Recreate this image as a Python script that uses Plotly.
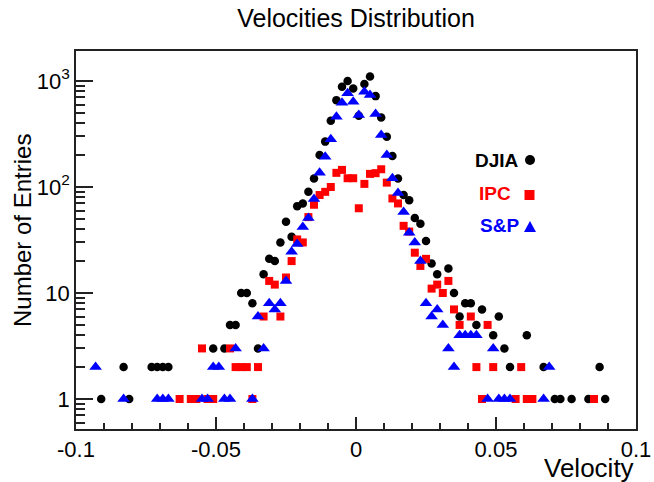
import plotly.graph_objects as go

# ---------------- data ----------------
djia_v = [-0.091, -0.083, -0.081, -0.073, -0.071, -0.069, -0.067, -0.051, -0.047, -0.045,
          -0.043, -0.041, -0.039, -0.037, -0.035, -0.033, -0.031, -0.029, -0.027, -0.025,
          -0.023, -0.021, -0.019, -0.017, -0.015, -0.013, -0.011, -0.009, -0.007, -0.005,
          -0.003, -0.001, 0.001, 0.003, 0.005, 0.007, 0.009, 0.011, 0.013, 0.015,
          0.017, 0.019, 0.021, 0.023, 0.025, 0.027, 0.029, 0.033, 0.035, 0.037,
          0.039, 0.041, 0.043, 0.045, 0.049, 0.051, 0.053, 0.055, 0.061, 0.067,
          0.071, 0.073, 0.077, 0.083, 0.087, 0.089]
djia_n = [1, 2, 1, 2, 2, 2, 2, 3, 3, 5,
          5, 10, 10, 8, 3, 15, 21, 20, 30, 47,
          34, 66, 70, 90, 120, 200, 268, 422, 660, 884,
          1000, 850, 470, 935, 1100, 720, 453, 298, 196, 120,
          84, 75, 51, 45, 31, 19, 15, 17, 10, 6,
          8, 8, 5, 7, 4, 6, 3, 2, 4, 2,
          1, 1, 1, 1, 2, 1]

ipc_v = [-0.063, -0.059, -0.057, -0.055, -0.053, -0.051, -0.045, -0.043, -0.041, -0.039,
         -0.037, -0.035, -0.033, -0.031, -0.029, -0.027, -0.025, -0.023, -0.021, -0.019,
         -0.017, -0.015, -0.013, -0.011, -0.009, -0.007, -0.005, -0.003, -0.001, 0.001,
         0.003, 0.005, 0.007, 0.009, 0.011, 0.013, 0.015, 0.017, 0.019, 0.021,
         0.023, 0.025, 0.027, 0.029, 0.031, 0.033, 0.035, 0.037, 0.041, 0.043,
         0.045, 0.047, 0.049, 0.057, 0.059, 0.061, 0.063, 0.085]
ipc_n = [1, 1, 1, 3, 1, 1, 3, 2, 2, 2,
         1, 2, 6, 13, 12, 6, 14, 20, 32, 30,
         52, 68, 84, 90, 100, 136, 145, 121, 121, 63,
         107, 133, 135, 147, 110, 78, 70, 43, 38, 24,
         18, 21, 11, 12, 10, 13, 7, 5, 6, 2,
         1, 5, 2, 1, 2, 1, 1, 1]

sp_v = [-0.093, -0.083, -0.071, -0.069, -0.067, -0.055, -0.053, -0.051, -0.049, -0.047,
        -0.045, -0.043, -0.037, -0.035, -0.033, -0.031, -0.029, -0.027, -0.025, -0.023,
        -0.021, -0.019, -0.017, -0.015, -0.013, -0.011, -0.009, -0.007, -0.005, -0.003,
        -0.001, 0.001, 0.003, 0.005, 0.007, 0.009, 0.011, 0.013, 0.015, 0.017,
        0.019, 0.021, 0.023, 0.025, 0.027, 0.029, 0.031, 0.033, 0.035, 0.037,
        0.039, 0.041, 0.043, 0.047, 0.049, 0.051, 0.053, 0.055, 0.067, 0.069]
sp_n = [2, 1, 1, 1, 1, 1, 1, 2, 2, 1,
        1, 3, 1, 6, 3, 8, 7, 8, 13, 24.5,
        29, 42, 51, 77, 136, 193, 282, 460, 624, 765,
        638, 478, 793, 738, 489, 310, 200, 121, 88, 58,
        37, 30, 20, 8, 6, 7, 5, 3, 2, 4,
        4, 4, 4, 1, 3, 1, 1, 1, 1, 2]

series_names = ["DJIA", "IPC", "S&P"]
series_colors = ["#000000", "#ff0000", "#0000ff"]

x_tickvals = [-0.1, -0.05, 0, 0.05, 0.1]
x_ticktext = ["-0.1", "-0.05", "0", "0.05", "0.1"]
y_tickvals = [1, 10, 100, 1000]
y_ticktext = ["1", "10", "10<sup>2</sup>", "10<sup>3</sup>"]

FONT = "Liberation Sans, Arial, Helvetica, sans-serif"
AX = "#222222"

W, H = 654, 482
L, R, T, B = 76, 18, 51, 53
PW, PH = W - L - R, H - T - B


def px2x(px):
    return (px - L) / PW


def py2y(py):
    return (H - B - py) / PH


fig = go.Figure()
fig.add_trace(go.Scatter(x=djia_v, y=djia_n, mode="markers", name=series_names[0],
                         marker=dict(symbol="circle", size=8.5, color=series_colors[0],
                                     line=dict(width=0))))
fig.add_trace(go.Scatter(x=ipc_v, y=ipc_n, mode="markers", name=series_names[1],
                         marker=dict(symbol="square", size=8, color=series_colors[1],
                                     line=dict(width=0))))
fig.add_trace(go.Scatter(x=sp_v, y=sp_n, mode="markers", name=series_names[2],
                         marker=dict(symbol="triangle-up", size=11, color=series_colors[2],
                                     line=dict(width=0))))

fig.update_layout(
    width=W, height=H,
    margin=dict(l=L, r=R, t=T, b=B, autoexpand=False),
    showlegend=False,
    plot_bgcolor="white", paper_bgcolor="white",
    font=dict(family=FONT, color="black"),
    title=dict(text="Velocities Distribution", x=0.5, xref="paper", xanchor="center",
               y=1 - 18 / H, yref="container", yanchor="middle",
               font=dict(size=25, family=FONT, color="black")),
)

fig.update_xaxes(
    range=[-0.1, 0.1], tickmode="array", tickvals=x_tickvals, ticktext=x_ticktext,
    ticks="inside", ticklen=12, tickwidth=1.5, tickcolor=AX,
    minor=dict(tick0=0, dtick=0.01, ticks="inside", ticklen=6, tickwidth=1.5, tickcolor=AX),
    showline=True, linecolor=AX, linewidth=1.5, mirror=True,
    showgrid=False, zeroline=False, automargin=False,
    tickfont=dict(size=22, family=FONT, color="black"),
)
fig.update_yaxes(
    type="log", range=[-0.283, 3.283], tickmode="array", tickvals=y_tickvals, ticktext=y_ticktext,
    ticks="inside", ticklen=17, tickwidth=1.5, tickcolor=AX,
    minor=dict(dtick="D1", ticks="inside", ticklen=9, tickwidth=1.5, tickcolor=AX),
    showline=True, linecolor=AX, linewidth=1.5, mirror=True,
    showgrid=False, zeroline=False, automargin=False,
    tickfont=dict(size=22, family=FONT, color="black"),
)

annotations = [
    dict(text="Velocity", x=1.0, y=py2y(468), xref="paper", yref="paper",
         xanchor="right", yanchor="middle", showarrow=False,
         font=dict(size=26, family=FONT, color="black")),
    dict(text="Number of Entries", x=px2x(22), y=py2y(231), xref="paper", yref="paper",
         xanchor="center", yanchor="middle", textangle=-90, showarrow=False,
         font=dict(size=24, family=FONT, color="black")),
]
legend_text_pos = [(473, 160), (477, 194), (478, 226)]
for name, col, (tx, ty) in zip(series_names, series_colors, legend_text_pos):
    annotations.append(dict(text="<b>" + name.replace("&", "&amp;") + "</b>",
                            x=px2x(tx), y=py2y(ty), xref="paper", yref="paper",
                            xanchor="left", yanchor="middle", showarrow=False,
                            font=dict(size=19, family=FONT, color=col)))
fig.update_layout(annotations=annotations)

# legend swatches (decoration, in paper coordinates)
shapes = [
    dict(type="circle", xref="paper", yref="paper",
         x0=px2x(525), x1=px2x(535), y0=py2y(165), y1=py2y(155),
         fillcolor=series_colors[0], line=dict(width=0)),
    dict(type="rect", xref="paper", yref="paper",
         x0=px2x(524.5), x1=px2x(534.5), y0=py2y(200), y1=py2y(190),
         fillcolor=series_colors[1], line=dict(width=0)),
    dict(type="path", xref="paper", yref="paper",
         path="M {:.4f} {:.4f} L {:.4f} {:.4f} L {:.4f} {:.4f} Z".format(
             px2x(524), py2y(232), px2x(536), py2y(232), px2x(530), py2y(221)),
         fillcolor=series_colors[2], line=dict(width=0)),
]
fig.update_layout(shapes=shapes)

fig.write_html("out.html", config={"displayModeBar": False},
               post_script="document.body.style.margin='0';document.body.style.padding='0';")
